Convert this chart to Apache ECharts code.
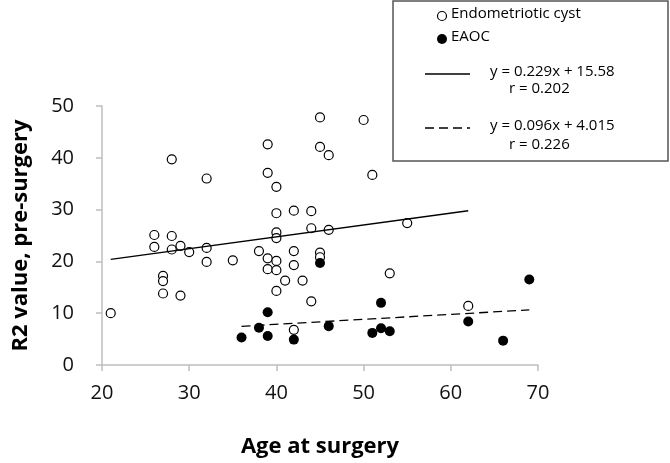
<!DOCTYPE html>
<html lang="en">
<head>
<meta charset="UTF-8">
<title></title>
<style>
    html, body { margin: 0; padding: 0; background: #fff; }
    #chart { width: 670px; height: 463px; }
</style>
</head>
<body>
<div id="chart"></div>
<script src="https://cdn.jsdelivr.net/npm/echarts@6/dist/echarts.min.js"></script>
<script>
    // [age, R2]
    var cystData = [
        [21, 10.0], [26, 25.1], [26, 22.8], [27, 17.2], [27, 16.2], [27, 13.8],
        [28, 39.7], [28, 24.9], [28, 22.3], [29, 23.0], [29, 13.4], [30, 21.8],
        [32, 36.0], [32, 22.6], [32, 19.9], [35, 20.2], [38, 22.0], [39, 42.6],
        [39, 37.1], [39, 20.6], [39, 18.5], [40, 34.4], [40, 29.3], [40, 25.6],
        [40, 24.5], [40, 20.1], [40, 18.3], [40, 14.3], [41, 16.3], [42, 29.8],
        [42, 22.0], [42, 19.3], [42, 6.8], [43, 16.3], [44, 29.7], [44, 26.4],
        [44, 12.3], [45, 47.8], [45, 42.1], [45, 21.7], [45, 20.8], [46, 40.5],
        [46, 26.1], [50, 47.3], [51, 36.7], [53, 17.7], [55, 27.4], [62, 11.4]
    ];
    var eaocData = [
        [36, 5.3], [38, 7.2], [39, 10.2], [39, 5.6], [42, 4.9], [45, 19.7],
        [46, 7.5], [51, 6.2], [52, 12.0], [52, 7.1], [53, 6.5], [62, 8.4],
        [66, 4.7], [69, 16.5]
    ];
    // fitted lines, end points
    var cystFit = [[21, 20.39], [62, 29.78]];
    var eaocFit = [[36, 7.47], [69, 10.64]];

    var legendLines = ['y = 0.229x + 15.58', 'r = 0.202', 'y = 0.096x + 4.015', 'r = 0.226'];

    var font = '"Open Sans", "Liberation Sans", sans-serif';
    var chart = echarts.init(document.getElementById('chart'));

    var option = {
        animation: false,
        textStyle: { fontFamily: font },
        grid: { left: 102, right: 132, top: 106, bottom: 87.5 },
        xAxis: {
            type: 'value', min: 20, max: 70, interval: 10,
            name: 'Age at surgery', nameLocation: 'middle', nameGap: 71,
            nameTextStyle: { fontSize: 22, fontWeight: 'bold', color: '#000', fontFamily: font },
            axisLine: { lineStyle: { color: '#bfbfbf', width: 1.5 } },
            axisTick: { inside: false, length: 6, lineStyle: { color: '#bfbfbf', width: 1.5 } },
            axisLabel: { fontSize: 20, color: '#111', margin: 18, fontFamily: font },
            splitLine: { show: false }
        },
        yAxis: {
            type: 'value', min: 0, max: 50, interval: 10,
            name: 'R2 value, pre-surgery', nameLocation: 'middle', nameGap: 70,
            nameTextStyle: { fontSize: 22, fontWeight: 'bold', color: '#000', fontFamily: font },
            axisLine: { show: true, lineStyle: { color: '#bfbfbf', width: 1.5 } },
            axisTick: { show: true, length: 6, lineStyle: { color: '#bfbfbf', width: 1.5 } },
            axisLabel: { fontSize: 20, color: '#111', margin: 28, fontFamily: font },
            splitLine: { show: false }
        },
        series: [
            {
                type: 'line', data: cystFit, showSymbol: false, silent: true,
                lineStyle: { color: '#000', width: 1.3 }
            },
            {
                type: 'line', data: eaocFit, showSymbol: false, silent: true,
                lineStyle: { color: '#000', width: 1.3, type: [9, 5] }
            },
            {
                name: 'Endometriotic cyst', type: 'scatter', data: cystData,
                symbol: 'circle', symbolSize: 9,
                itemStyle: { color: '#fff', borderColor: '#000', borderWidth: 1.2, opacity: 1 }
            },
            {
                name: 'EAOC', type: 'scatter', data: eaocData,
                symbol: 'circle', symbolSize: 10,
                itemStyle: { color: '#000', opacity: 1 }
            }
        ],
        graphic: [
            { type: 'rect', shape: { x: 393, y: 1, width: 275, height: 160 },
              style: { fill: '#fff', stroke: '#555', lineWidth: 1.5 } },
            { type: 'circle', shape: { cx: 442, cy: 16, r: 4.5 },
              style: { fill: '#fff', stroke: '#000', lineWidth: 1.2 } },
            { type: 'text', left: 451, top: 6,
              style: { text: 'Endometriotic cyst', font: '15px ' + font, fill: '#000' } },
            { type: 'circle', shape: { cx: 442, cy: 39, r: 5 },
              style: { fill: '#000' } },
            { type: 'text', left: 451, top: 29,
              style: { text: 'EAOC', font: '15px ' + font, fill: '#000' } },
            { type: 'line', shape: { x1: 425, y1: 74, x2: 470, y2: 74 },
              style: { stroke: '#000', lineWidth: 1.3 } },
            { type: 'text', left: 490, top: 64,
              style: { text: legendLines[0], font: '15px ' + font, fill: '#000' } },
            { type: 'text', left: 509, top: 81,
              style: { text: legendLines[1], font: '15px ' + font, fill: '#000' } },
            { type: 'line', shape: { x1: 425, y1: 128, x2: 470, y2: 128 },
              style: { stroke: '#000', lineWidth: 1.3, lineDash: [9, 5] } },
            { type: 'text', left: 490, top: 118,
              style: { text: legendLines[2], font: '15px ' + font, fill: '#000' } },
            { type: 'text', left: 509, top: 137,
              style: { text: legendLines[3], font: '15px ' + font, fill: '#000' } }
        ]
    };

    chart.setOption(option);
</script>
</body>
</html>
